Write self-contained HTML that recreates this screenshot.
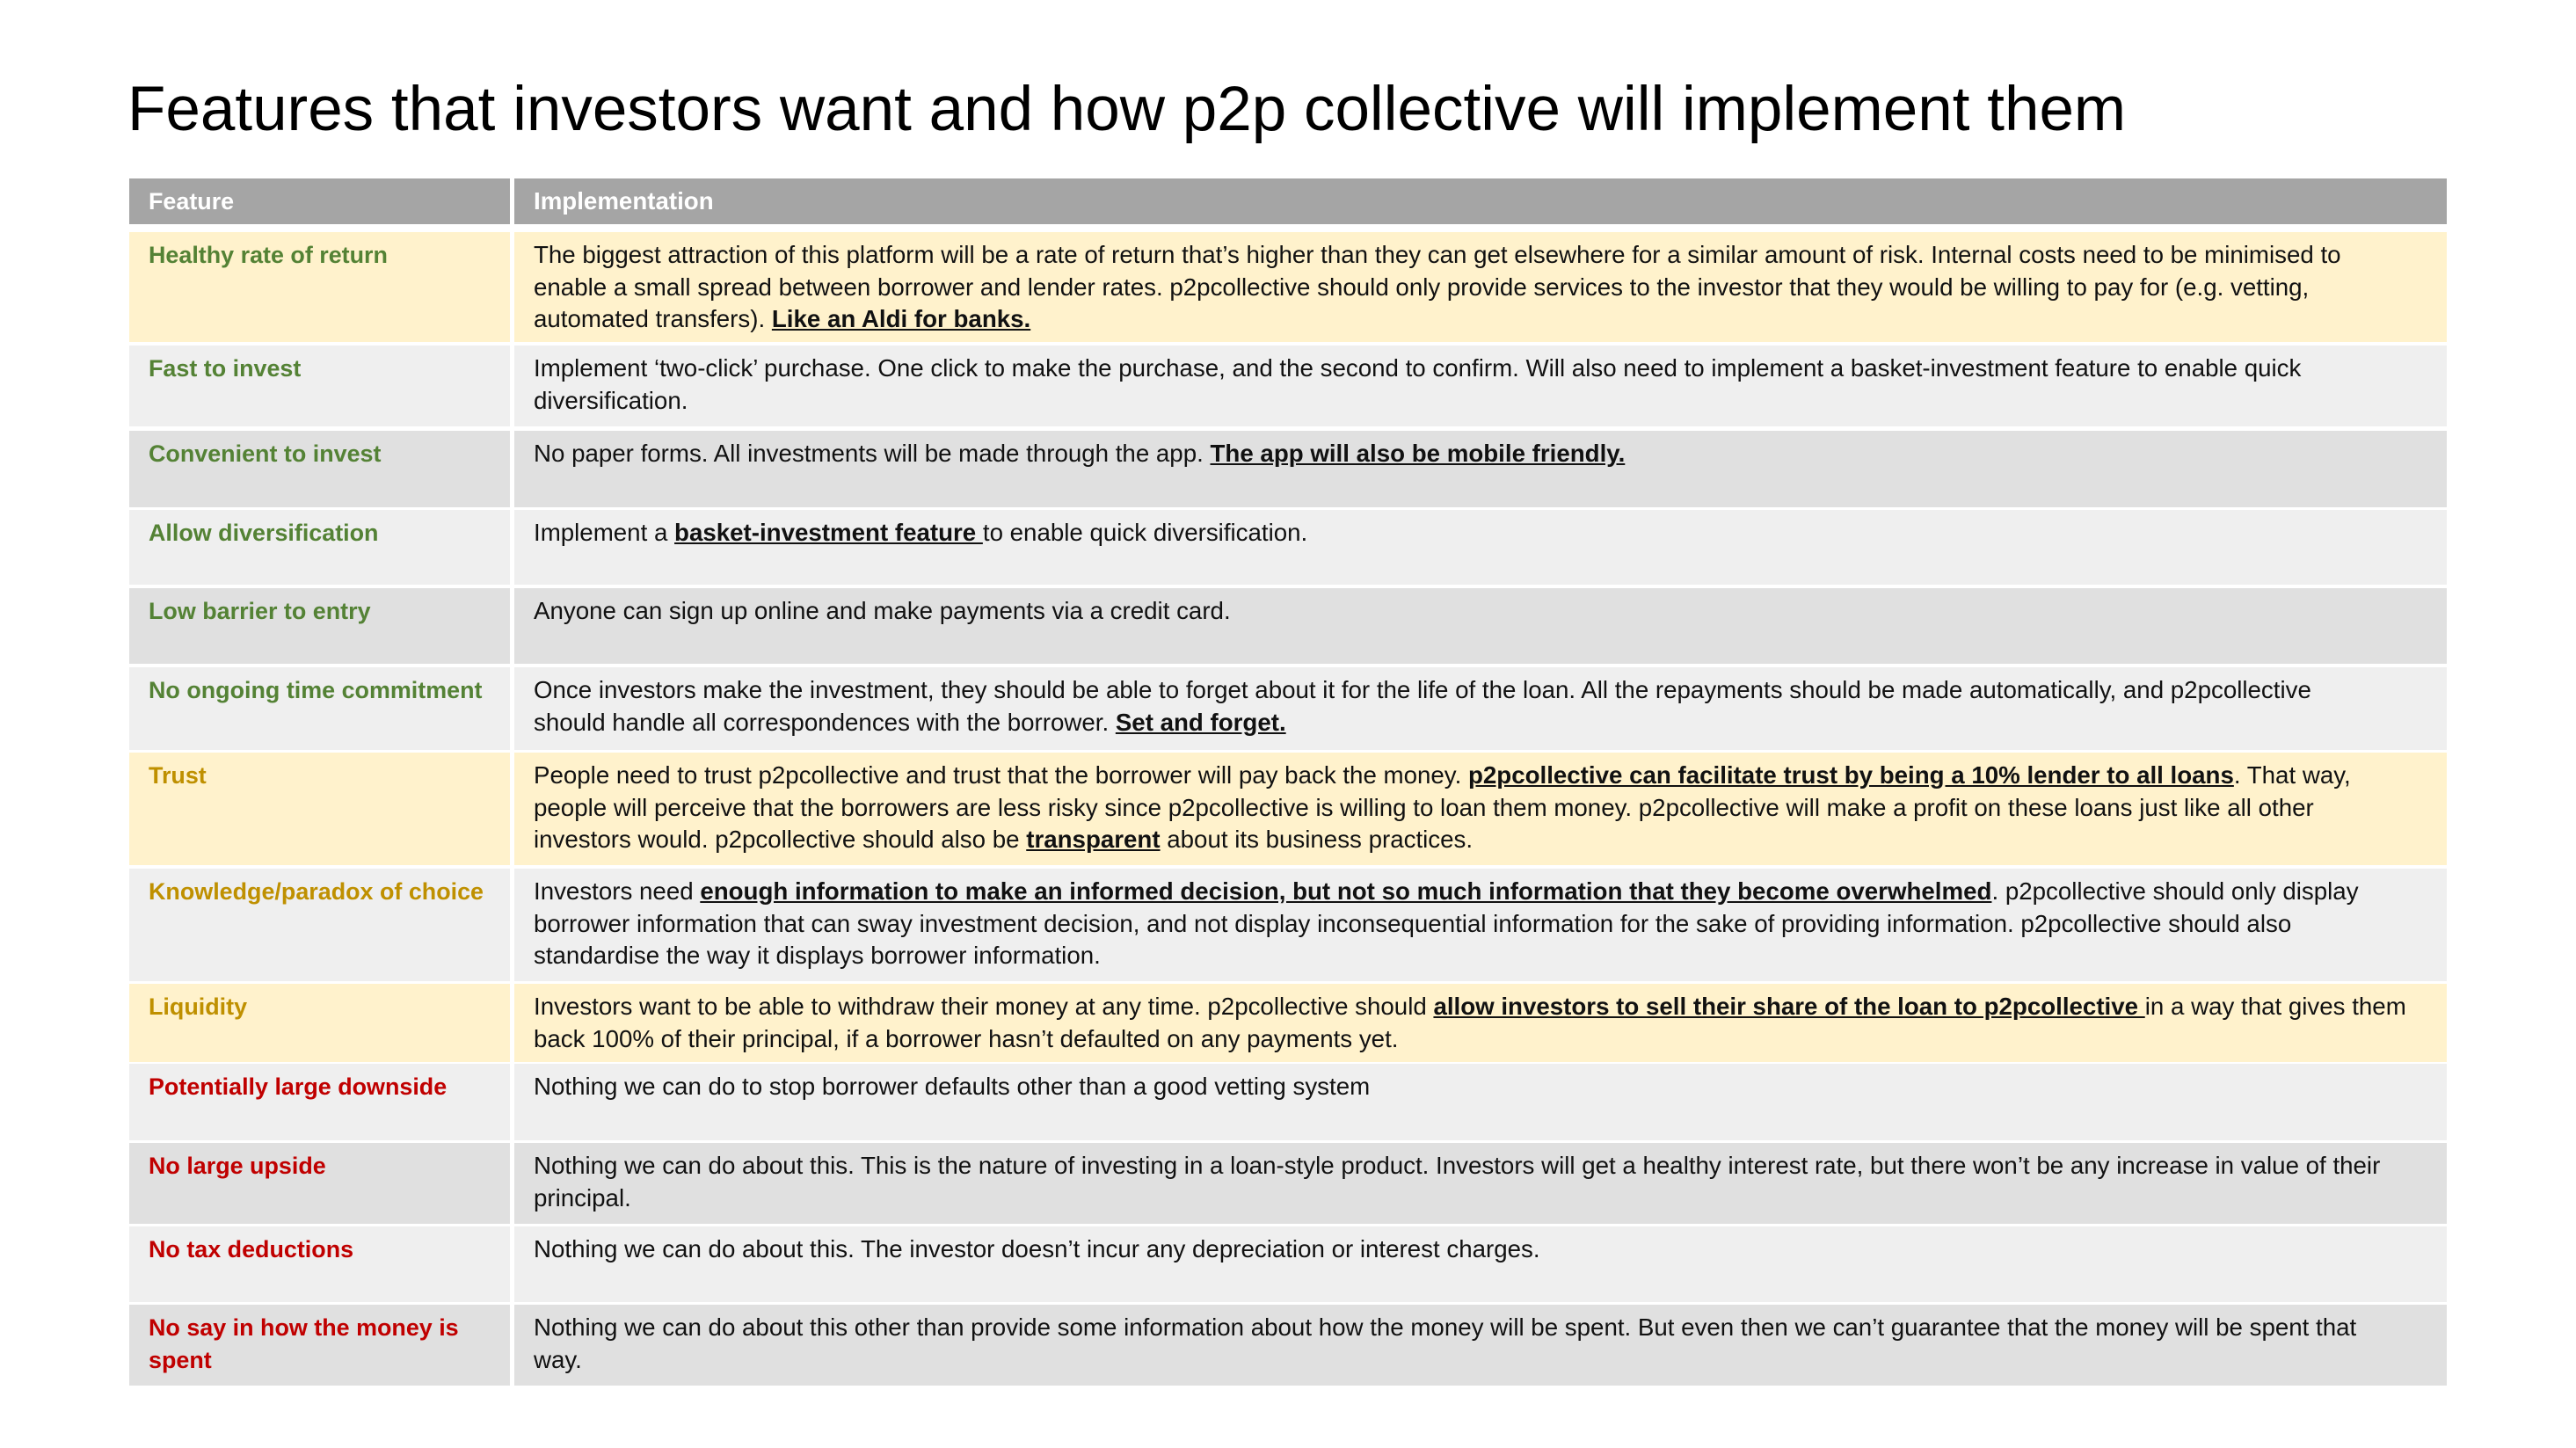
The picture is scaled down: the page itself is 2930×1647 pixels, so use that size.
<!DOCTYPE html>
<html><head><meta charset="utf-8"><style>
body{margin:0;width:2930px;height:1647px;background:#fff;position:relative;overflow:hidden;font-family:"Liberation Sans",sans-serif;}
#title{position:absolute;left:145px;top:89px;font-size:71px;color:#000;white-space:nowrap;line-height:1;}
.f{left:147px;width:433px;padding-left:22px;font-weight:bold;font-size:26.9px !important;}
.i{left:585px;width:2198px;padding-left:22px;}
.c{position:absolute;box-sizing:border-box;font-size:27.7px;line-height:36.6px;padding-top:8px;white-space:nowrap;color:#111;}
.h{background:#a5a5a5;color:#fff;font-weight:bold;}
.y{background:#fff2cc}.l{background:#efefef}.d{background:#e0e0e0}
.g{color:#548235}.o{color:#bf9000}.r{color:#c00000}
u{font-weight:bold}
</style></head><body>
<div id="title">Features that investors want and how p2p collective will implement them</div>
<div>
<div class="c f h" style="top:203px;height:52px">Feature</div>
<div class="c i h" style="top:203px;height:52px">Implementation</div>

<div class="c f y g" style="top:264px;height:125px">Healthy rate of return</div>
<div class="c i y" style="top:264px;height:125px">The biggest attraction of this platform will be a rate of return that’s higher than they can get elsewhere for a similar amount of risk. Internal costs need to be minimised to<br>enable a small spread between borrower and lender rates. p2pcollective should only provide services to the investor that they would be willing to pay for (e.g. vetting,<br>automated transfers). <u>Like an Aldi for banks.</u></div>

<div class="c f l g" style="top:393px;height:92px">Fast to invest</div>
<div class="c i l" style="top:393px;height:92px">Implement ‘two-click’ purchase. One click to make the purchase, and the second to confirm. Will also need to implement a basket-investment feature to enable quick<br>diversification.</div>

<div class="c f d g" style="top:490px;height:87px">Convenient to invest</div>
<div class="c i d" style="top:490px;height:87px">No paper forms. All investments will be made through the app. <u>The app will also be mobile friendly.</u></div>

<div class="c f l g" style="top:580px;height:85px">Allow diversification</div>
<div class="c i l" style="top:580px;height:85px">Implement a <u>basket-investment feature </u>to enable quick diversification.</div>

<div class="c f d g" style="top:669px;height:86px">Low barrier to entry</div>
<div class="c i d" style="top:669px;height:86px">Anyone can sign up online and make payments via a credit card.</div>

<div class="c f l g" style="top:759px;height:94px">No ongoing time commitment</div>
<div class="c i l" style="top:759px;height:94px">Once investors make the investment, they should be able to forget about it for the life of the loan. All the repayments should be made automatically, and p2pcollective<br>should handle all correspondences with the borrower. <u>Set and forget.</u></div>

<div class="c f y o" style="top:856px;height:128px">Trust</div>
<div class="c i y" style="top:856px;height:128px">People need to trust p2pcollective and trust that the borrower will pay back the money. <u>p2pcollective can facilitate trust by being a 10% lender to all loans</u>. That way,<br>people will perceive that the borrowers are less risky since p2pcollective is willing to loan them money. p2pcollective will make a profit on these loans just like all other<br>investors would. p2pcollective should also be <u>transparent</u> about its business practices.</div>

<div class="c f l o" style="top:988px;height:128px">Knowledge/paradox of choice</div>
<div class="c i l" style="top:988px;height:128px">Investors need <u>enough information to make an informed decision, but not so much information that they become overwhelmed</u>. p2pcollective should only display<br>borrower information that can sway investment decision, and not display inconsequential information for the sake of providing information. p2pcollective should also<br>standardise the way it displays borrower information.</div>

<div class="c f y o" style="top:1119px;height:89px">Liquidity</div>
<div class="c i y" style="top:1119px;height:89px">Investors want to be able to withdraw their money at any time. p2pcollective should <u>allow investors to sell their share of the loan to p2pcollective </u>in a way that gives them<br>back 100% of their principal, if a borrower hasn’t defaulted on any payments yet.</div>

<div class="c f l r" style="top:1210px;height:87px">Potentially large downside</div>
<div class="c i l" style="top:1210px;height:87px">Nothing we can do to stop borrower defaults other than a good vetting system</div>

<div class="c f d r" style="top:1300px;height:92px">No large upside</div>
<div class="c i d" style="top:1300px;height:92px">Nothing we can do about this. This is the nature of investing in a loan-style product. Investors will get a healthy interest rate, but there won’t be any increase in value of their<br>principal.</div>

<div class="c f l r" style="top:1395px;height:86px">No tax deductions</div>
<div class="c i l" style="top:1395px;height:86px">Nothing we can do about this. The investor doesn’t incur any depreciation or interest charges.</div>

<div class="c f d r" style="top:1484px;height:92px">No say in how the money is<br>spent</div>
<div class="c i d" style="top:1484px;height:92px">Nothing we can do about this other than provide some information about how the money will be spent. But even then we can’t guarantee that the money will be spent that<br>way.</div>
</div>
<script>
document.querySelectorAll('.i').forEach(function(el){
  if(el.scrollWidth>el.clientWidth){
    var fs=parseFloat(getComputedStyle(el).fontSize);
    el.style.fontSize=(fs*(el.clientWidth-40)/(el.scrollWidth-22))+'px';
  }
});
</script>
</body></html>
